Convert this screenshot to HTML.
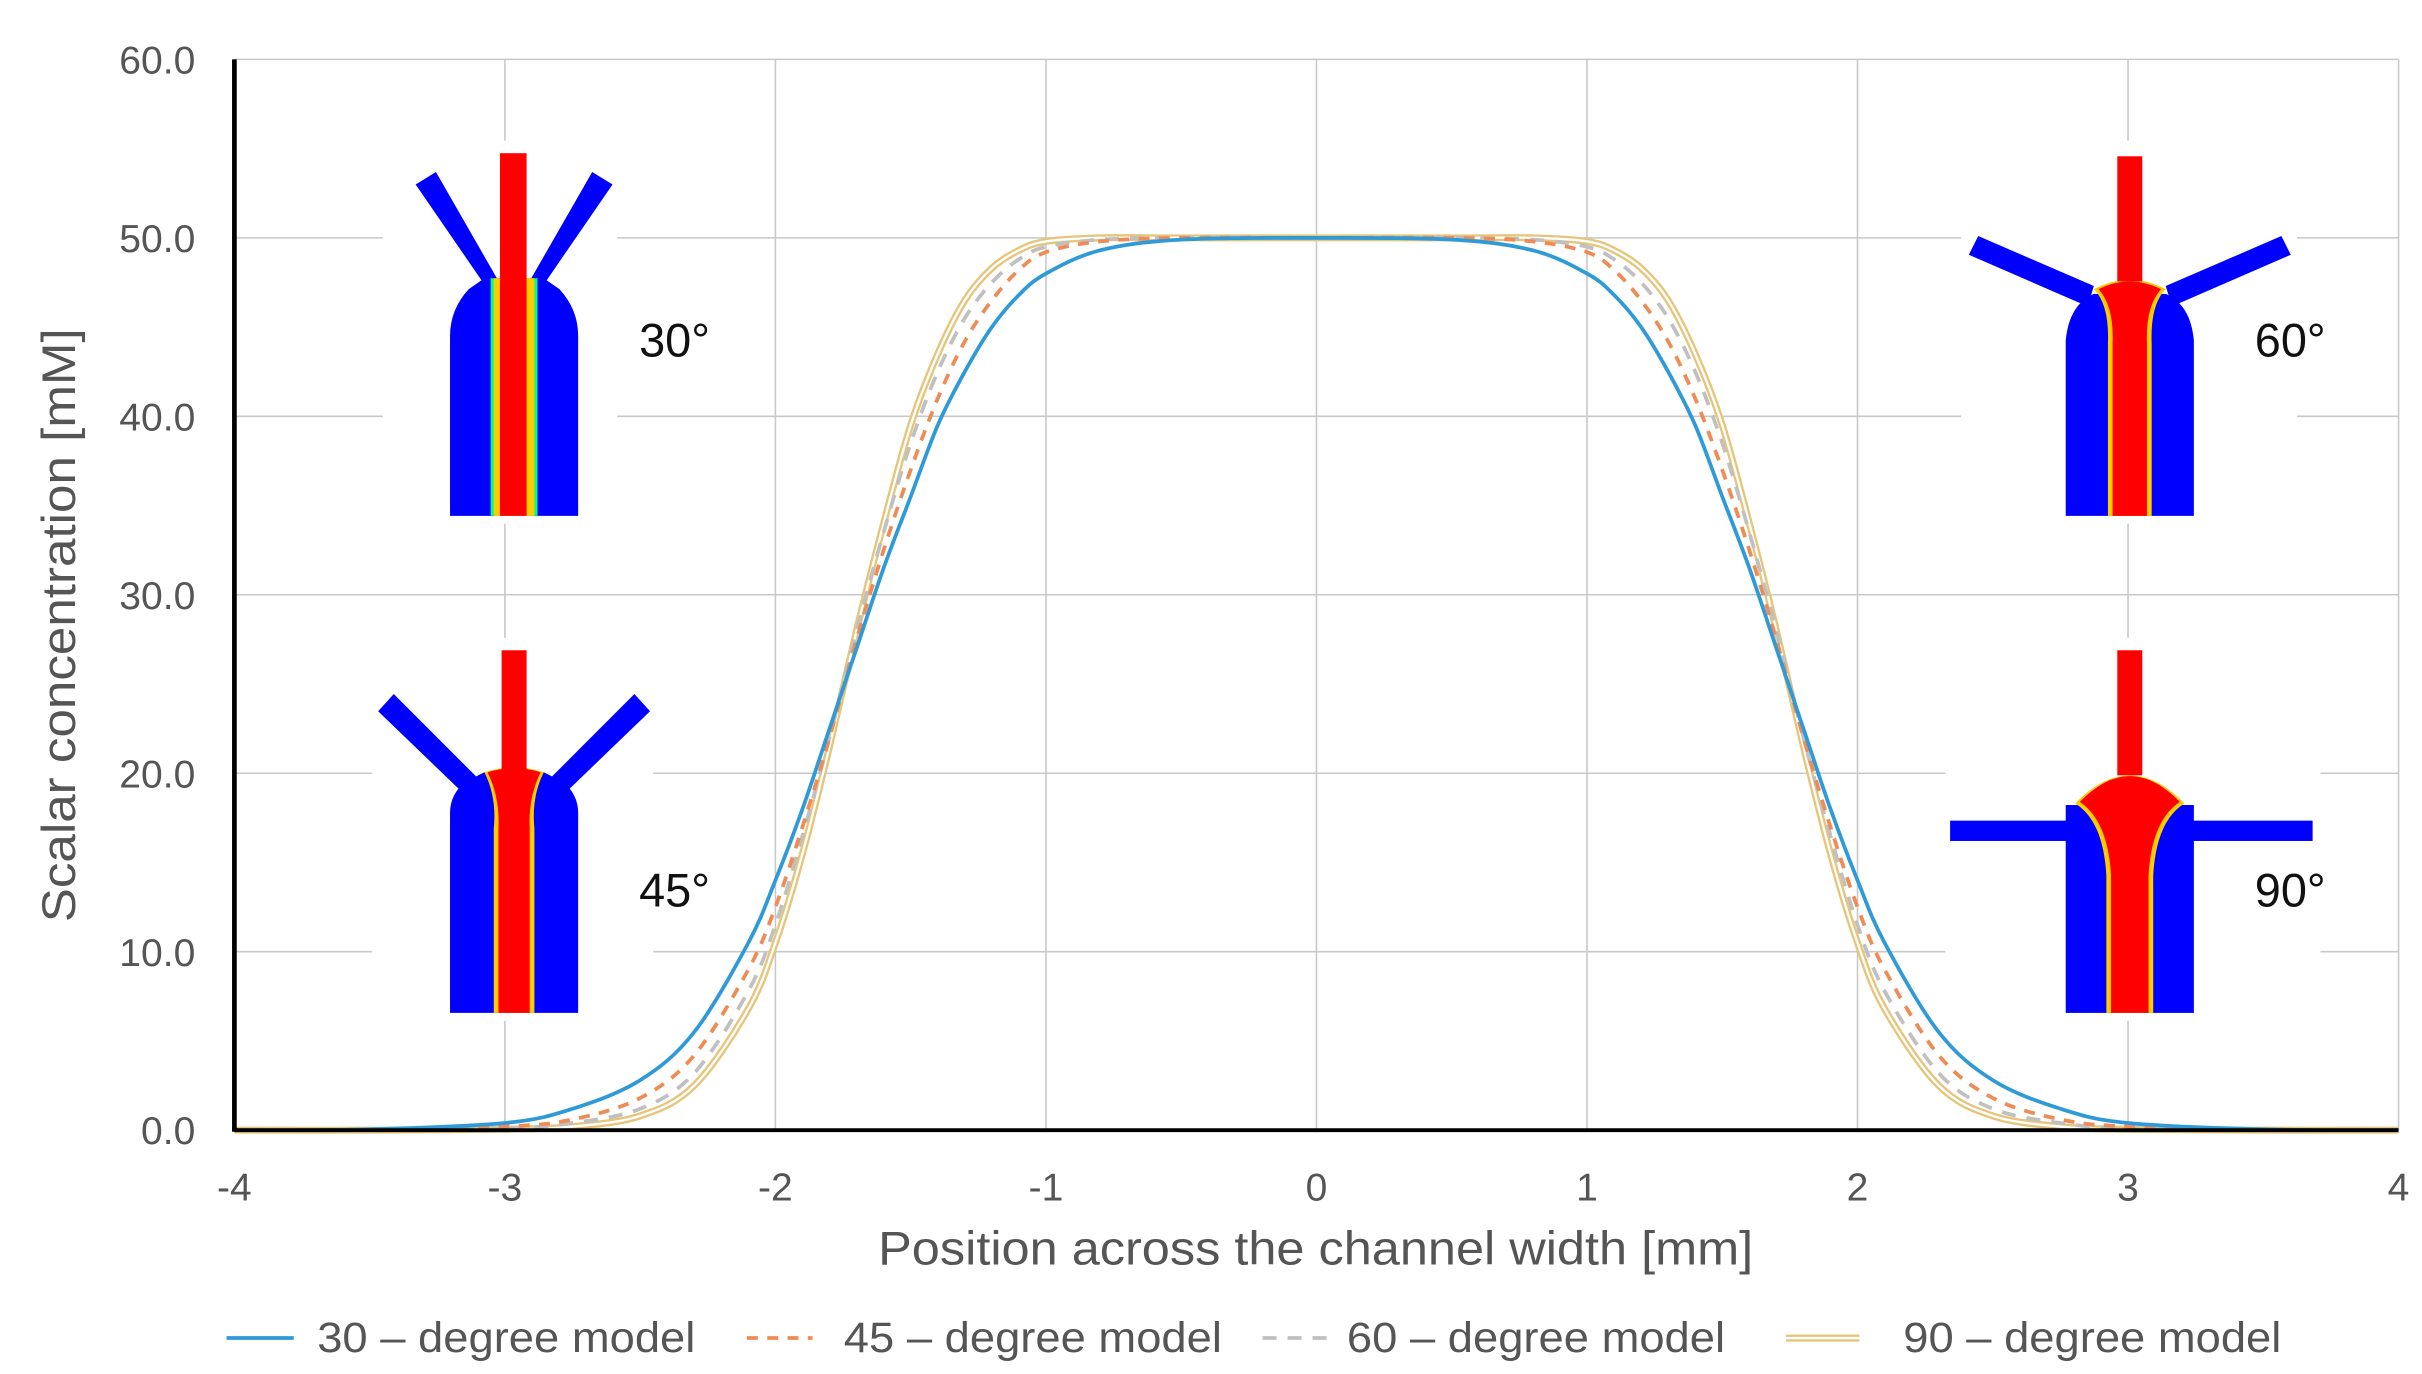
<!DOCTYPE html>
<html><head><meta charset="utf-8"><style>
html,body{margin:0;padding:0;background:#fff;}
svg{display:block;}
text{font-family:"Liberation Sans",sans-serif;}
</style></head><body>
<svg id="chart" width="2422" height="1374" viewBox="0 0 1550 879" preserveAspectRatio="none" xmlns="http://www.w3.org/2000/svg">
<g id="grid"></g>
<g id="insets">
  <g>
    <rect x="245" y="90" width="150" height="245" fill="#fff"/>
    <polygon points="266,118 279,110 318,178 310,182" fill="#0000ff"/>
    <polygon points="392,118 379,110 340,178 348,182" fill="#0000ff"/>
    <path d="M288,330 L288,215 Q288,198 300,185 L310,178 L348,178 L358,185 Q370,198 370,215 L370,330 Z" fill="#0000ff"/>
    <rect x="314" y="178" width="30" height="152" fill="#00ff80"/>
    <rect x="316" y="178" width="26" height="152" fill="#ffcc00"/>
    <rect x="320" y="98" width="17" height="232" fill="#ff0000"/>
    <text x="409" y="228" font-size="30" fill="#111">30°</text>
  </g>
  <g>
    <rect x="238" y="408" width="180" height="245" fill="#fff"/>
    <polygon points="242,455 252,444 305,497 296,507" fill="#0000ff"/>
    <polygon points="416,455 406,444 353,497 362,507" fill="#0000ff"/>
    <path d="M288,648 L288,520 Q288,508 298,500 L310,494 L348,494 L360,500 Q370,508 370,520 L370,648 Z" fill="#0000ff"/>
    <path d="M310,494 Q329,488 348,494 Q340,510 342,530 L342,648 L316,648 L316,530 Q318,510 310,494 Z" fill="#ffcc00"/>
    <path d="M312,494 Q329,489 346,494 Q338,510 339,530 L339,648 L319,648 L319,530 Q320,510 312,494 Z" fill="#ff0000"/>
    <rect x="321" y="416" width="16" height="80" fill="#ff0000"/>
    <text x="409" y="580" font-size="30" fill="#111">45°</text>
  </g>
  <g>
    <rect x="1255" y="90" width="215" height="245" fill="#fff"/>
    <polygon points="1260,163 1266,151 1340,183 1336,196" fill="#0000ff"/>
    <polygon points="1466,163 1460,151 1386,183 1390,196" fill="#0000ff"/>
    <path d="M1322,330 L1322,218 Q1324,195 1340,188 L1386,188 Q1402,195 1404,218 L1404,330 Z" fill="#0000ff"/>
    <path d="M1340,185 Q1363,173 1386,185 Q1376,195 1377,220 L1377,330 L1349,330 L1349,220 Q1350,195 1340,185 Z" fill="#ffcc00"/>
    <path d="M1343,185 Q1363,175 1383,185 Q1373,196 1374,220 L1374,330 L1352,330 L1352,220 Q1353,196 1343,185 Z" fill="#ff0000"/>
    <rect x="1355" y="100" width="16" height="80" fill="#ff0000"/>
    <text x="1443" y="228" font-size="30" fill="#111">60°</text>
  </g>
  <g>
    <rect x="1245" y="408" width="240" height="245" fill="#fff"/>
    <rect x="1248" y="525" width="232" height="13" fill="#0000ff"/>
    <rect x="1322" y="515" width="82" height="133" fill="#0000ff"/>
    <path d="M1328,514 Q1363,478 1398,514 Q1380,525 1378,560 L1378,648 L1348,648 L1348,560 Q1346,525 1328,514 Z" fill="#ffcc00"/>
    <path d="M1331,513 Q1363,480 1395,513 Q1377,525 1375,560 L1375,648 L1351,648 L1351,560 Q1349,525 1331,513 Z" fill="#ff0000"/>
    <rect x="1355" y="416" width="16" height="80" fill="#ff0000"/>
    <text x="1443" y="580" font-size="30" fill="#111">90°</text>
  </g>
</g>
<g id="series"></g>
<g id="axes"></g>
<text x="0" y="0" transform="translate(48,400) rotate(-90)" text-anchor="middle" font-size="30" textLength="380" lengthAdjust="spacingAndGlyphs" fill="#555">Scalar concentration [mM]</text>
<text x="842" y="809" text-anchor="middle" font-size="30" textLength="560" lengthAdjust="spacingAndGlyphs" fill="#555">Position across the channel width [mm]</text>
<g id="legend"></g>
</svg>
<script>
const xTicks = [-4,-3,-2,-1,0,1,2,3,4];
const yTicks = [0,10,20,30,40,50,60];
const yTickLabels = ["0.0","10.0","20.0","30.0","40.0","50.0","60.0"];
const xs = [-4,-3.5,-3,-2.75,-2.5,-2.3,-2.1,-2,-1.9,-1.8,-1.7,-1.6,-1.5,-1.4,-1.3,-1.2,-1.1,-1,-0.8,-0.5,0,0.5,0.8,1,1.1,1.2,1.3,1.4,1.5,1.6,1.7,1.8,1.9,2,2.1,2.3,2.5,2.75,3,3.5,4];
const s30 = [0,0.05,0.4,1.2,2.8,5.5,10.5,14,18,22.5,27,31.5,35.5,39.5,42.5,45,46.8,48,49.3,49.9,50,49.9,49.3,48,46.8,45,42.5,39.5,35.5,31.5,27,22.5,18,14,10.5,5.5,2.8,1.2,0.4,0.05,0];
const s45 = [0,0.02,0.2,0.6,1.8,4.2,9,12.5,17,22,27.5,32.5,37,41,44.2,46.5,48.2,49.2,49.8,50,50,50,49.8,49.2,48.2,46.5,44.2,41,37,32.5,27.5,22,17,12.5,9,4.2,1.8,0.6,0.2,0.02,0];
const s60 = [0,0,0.1,0.4,1.2,3.2,7.8,11.5,16.5,22,28,33.5,38.5,42.5,45.5,47.5,48.8,49.5,49.9,50,50,50,49.9,49.5,48.8,47.5,45.5,42.5,38.5,33.5,28,22,16.5,11.5,7.8,3.2,1.2,0.4,0.1,0,0];
const s90 = [0,0,0.05,0.2,0.8,2.5,6.8,10.5,15.5,21.5,28,34,39.5,43.5,46.5,48.3,49.3,49.8,50,50,50,50,50,49.8,49.3,48.3,46.5,43.5,39.5,34,28,21.5,15.5,10.5,6.8,2.5,0.8,0.2,0.05,0,0];
const seriesNames = ["30 – degree model","45 – degree model","60 – degree model","90 – degree model"];

const NS="http://www.w3.org/2000/svg";
const X0=150,X1=1535,Y0=723,Y1=38;
const sx=v=>X0+(v-(-4))/8*(X1-X0);
const sy=v=>Y0-(v/60)*(Y0-Y1);
function mk(tag,attrs,parent){const e=document.createElementNS(NS,tag);for(const k in attrs)e.setAttribute(k,attrs[k]);parent.appendChild(e);return e;}
const grid=document.getElementById('grid'),axes=document.getElementById('axes'),ser=document.getElementById('series'),leg=document.getElementById('legend');
xTicks.forEach(t=>{
  const l=mk('line',{x1:sx(t),x2:sx(t),y1:Y1,y2:Y0,stroke:'#c8c8c8','stroke-width':1},grid);
  
  
  const tx=mk('text',{x:sx(t),y:768,'text-anchor':'middle','font-size':25,fill:'#555'},axes);
  tx.textContent=t;
  
  
});
yTicks.forEach((t,i)=>{
  const l=mk('line',{x1:X0,x2:X1,y1:sy(t),y2:sy(t),stroke:'#c8c8c8','stroke-width':1},grid);
  
  
  const tx=mk('text',{x:125,y:sy(t)+9,'text-anchor':'end','font-size':25,fill:'#555'},axes);
  tx.textContent=yTickLabels[i];
  
  
});
const ya=mk('line',{x1:X0,x2:X0,y1:Y1,y2:Y0+1,stroke:'#000','stroke-width':3},axes);


const xa=mk('line',{x1:X0,x2:X1,y1:Y0,y2:Y0,stroke:'#000','stroke-width':2.5},axes);


function pathD(ys){
  const p=xs.map((x,i)=>[sx(x),sy(ys[i])]);
  let d='M'+p[0][0]+','+p[0][1];
  for(let i=0;i<p.length-1;i++){
    const p0=p[Math.max(0,i-1)],p1=p[i],p2=p[i+1],p3=p[Math.min(p.length-1,i+2)];
    const c1=[p1[0]+(p2[0]-p0[0])/6,p1[1]+(p2[1]-p0[1])/6];
    const c2=[p2[0]-(p3[0]-p1[0])/6,p2[1]-(p3[1]-p1[1])/6];
    d+=` C${c1[0]},${c1[1]} ${c2[0]},${c2[1]} ${p2[0]},${p2[1]}`;
  }
  return d;
}
const styles=[
 [{stroke:'#2f9ad8','stroke-width':2.4}],
 [{stroke:'#ef8c55','stroke-width':2.4,'stroke-dasharray':'7,6'}],
 [{stroke:'#c0c0c0','stroke-width':2.4,'stroke-dasharray':'9,7'}],
 [{stroke:'#e6c57a','stroke-width':4.5},{stroke:'#fff','stroke-width':1.5}]
];
const data=[s30,s45,s60,s90];
const names=['series-30-degree','series-45-degree','series-60-degree','series-90-degree'];
[3,2,1,0].forEach(i=>{
  styles[i].forEach(st=>{
    const p=mk('path',Object.assign({d:pathD(data[i]),fill:'none'},st),ser);
    
    
  });
});
const legX=[[145,188,203],[478,520,540],[808,850,862],[1143,1190,1218]];
seriesNames.forEach((n,i)=>{
  const g=mk('g',{},leg);
  
  
  styles[i].forEach(st=>mk('line',Object.assign({x1:legX[i][0],x2:legX[i][1],y1:856,y2:856},st),g));
  const t=mk('text',{x:legX[i][2],y:865,'font-size':27,fill:'#555',textLength:242,lengthAdjust:'spacingAndGlyphs'},g);
  t.textContent=n;
});
</script>
</body></html>
